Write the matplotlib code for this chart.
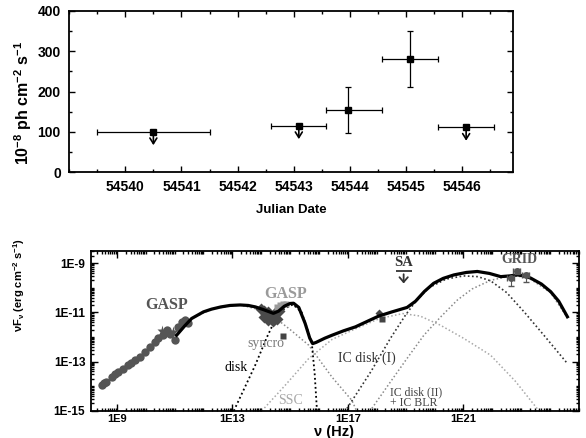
import matplotlib
matplotlib.use('Agg')
import matplotlib.pyplot as plt
import numpy as np
from matplotlib.ticker import FixedLocator, LogLocator, NullFormatter, MultipleLocator

# ---- top panel: light curve (Julian Date vs flux, 1e-8 ph cm^-2 s^-1)
jd = [54540.5, 54543.09, 54543.97, 54545.07, 54546.07]
jd_err_lo = [1.0, 0.49, 0.40, 0.50, 0.50]
jd_err_hi = [1.0, 0.49, 0.60, 0.50, 0.50]
flux = [100, 115, 155, 281, 111]
flux_lo = [None, None, 98, 212, None]
flux_hi = [None, None, 212, 350, None]
is_ul = [True, True, False, False, True]

# ---- bottom panel: SED, values as log10(nu) and log10(nuFnu)
gasp_radio_lognu = [8.47, 8.55, 8.64, 8.82, 8.95, 9.05, 9.22, 9.39, 9.5, 9.62, 9.80, 9.97,
                    10.14, 10.32, 10.43, 10.61, 10.72, 10.84, 11.01, 11.13, 11.24, 11.36, 11.47]
gasp_radio_logf = [-13.97, -13.88, -13.83, -13.63, -13.5, -13.42, -13.31, -13.15, -13.05, -12.95,
                   -12.81, -12.61, -12.40, -12.20, -12.06, -11.93, -11.72, -11.86, -12.13, -11.59,
                   -11.38, -11.31, -11.45]
gasp_star_lognu = [10.55, 10.95, 11.3]
gasp_star_logf = [-11.76, -11.8, -11.42]

gasp_opt_lognu = [14.0, 14.08, 14.15, 14.22, 14.3, 14.38, 14.45, 14.52, 14.1, 14.25, 14.4, 14.55, 14.6]
gasp_opt_logf = [-10.85, -10.95, -11.05, -11.0, -11.15, -11.25, -11.1, -11.0, -11.2, -11.3, -11.35,
                 -11.25, -10.95]
gasp_opt2_lognu = [14.55, 14.65, 14.75, 14.85]
gasp_opt2_logf = [-10.78, -10.72, -10.68, -10.66]

uv_lognu = [14.77]
uv_logf = [-11.95]
xray_lognu = [18.09, 18.18]
xray_logf = [-11.02, -11.29]

sa_lognu = 18.93
sa_logf = -9.34

grid_lognu = [22.63, 22.85, 23.15]
grid_logf = [-9.62, -9.32, -9.48]
grid_logf_lo = [-9.95, -9.45, -9.78]
grid_logf_hi = [-9.55, -9.25, -9.40]

total_lognu = [11.07, 11.35, 11.59, 12.0, 12.28, 12.6, 12.92, 13.27, 13.55, 13.8, 14.1, 14.42,
               14.6, 14.8, 15.0, 15.12, 15.3, 15.52, 15.68, 15.78, 15.9, 16.2, 16.45, 16.85,
               17.26, 17.7, 18.07, 18.53, 19.05, 19.34, 19.65, 19.97, 20.3, 20.67, 21.1, 21.48,
               21.9, 22.29, 22.6, 22.87, 23.1, 23.33, 23.7, 24.02, 24.3, 24.6]
total_logf = [-11.93, -11.55, -11.25, -10.98, -10.87, -10.78, -10.72, -10.70, -10.72, -10.78,
              -10.9, -11.04, -10.95, -10.75, -10.64, -10.63, -10.8, -11.45, -12.05, -12.27,
              -12.22, -12.05, -11.93, -11.75, -11.59, -11.35, -11.15, -10.98, -10.8, -10.55,
              -10.15, -9.82, -9.62, -9.48, -9.38, -9.34, -9.42, -9.55, -9.52, -9.48, -9.52,
              -9.61, -9.85, -10.16, -10.55, -11.18]

syncro_lognu = [11.07, 11.59, 12.28, 12.92, 13.27, 13.8, 14.3, 14.65, 15.0, 15.64, 16.45, 17.14, 17.3]
syncro_logf = [-11.93, -11.25, -10.87, -10.74, -10.70, -10.85, -11.1, -11.38, -11.7, -12.33,
               -13.63, -14.58, -15.0]

disk_lognu = [13.05, 13.79, 14.2, 14.48, 14.8, 15.1, 15.4, 15.6, 15.75, 15.85, 15.93]
disk_logf = [-15.0, -13.15, -12.0, -11.31, -10.85, -10.68, -11.0, -11.7, -12.25, -13.5, -15.0]

ssc_lognu = [14.02, 14.8, 15.64, 16.45, 17.3, 18.1, 18.9, 19.5, 20.2, 21.0, 21.94, 22.8, 23.56]
ssc_logf = [-15.0, -14.0, -12.88, -12.1, -11.65, -11.25, -11.05, -11.15, -11.52, -12.05, -12.74,
            -13.8, -14.92]

icd1_lognu = [16.97, 17.8, 18.47, 19.0, 19.34, 19.8, 20.4, 21.0, 21.5, 21.94, 22.5, 23.1, 23.8, 24.6]
icd1_logf = [-14.9, -13.4, -12.06, -11.1, -10.57, -10.0, -9.65, -9.52, -9.55, -9.72, -10.2,
             -10.98, -11.95, -13.08]

icd2_lognu = [17.83, 18.47, 19.0, 19.63, 20.2, 20.79, 21.3, 21.94, 22.4, 22.87, 23.33, 24.02, 24.6]
icd2_logf = [-14.9, -13.83, -12.95, -11.93, -11.2, -10.5, -10.05, -9.7, -9.58, -9.52, -9.66,
             -10.2, -11.22]


def p10(v):
    return np.power(10.0, np.array(v, dtype=float))


fig = plt.figure(figsize=(5.86, 4.38), dpi=100)
sans = 'Liberation Sans'
serif = 'Liberation Serif'

# ================= top panel
ax1 = fig.add_axes([0.118, 0.607, 0.757, 0.368])
for i in range(len(jd)):
    if is_ul[i]:
        yerr = None
    else:
        yerr = [[flux[i] - flux_lo[i]], [flux_hi[i] - flux[i]]]
    ax1.errorbar([jd[i]], [flux[i]], xerr=[[jd_err_lo[i]], [jd_err_hi[i]]], yerr=yerr,
                 fmt='s', color='black', ms=4, elinewidth=0.9, capsize=2.5, capthick=0.9)
    if is_ul[i]:
        ax1.annotate('', xy=(jd[i], flux[i] - 40), xytext=(jd[i], flux[i]),
                     arrowprops=dict(arrowstyle='->,head_length=0.4,head_width=0.25',
                                     color='black', lw=1.2))
ax1.set_xlim(54539.0, 54546.9)
ax1.set_ylim(0, 400)
ax1.xaxis.set_minor_locator(MultipleLocator(0.5))
ax1.yaxis.set_major_locator(MultipleLocator(100))
ax1.yaxis.set_minor_locator(MultipleLocator(50))
ax1.set_xticks(np.arange(54540, 54547))
ax1.set_xticklabels([str(v) for v in range(54540, 54547)])
ax1.tick_params(which='both', direction='in', top=True, right=True, width=1.0)
ax1.tick_params(which='major', length=4, labelsize=10, pad=6)
ax1.tick_params(which='minor', length=2.5)
for lab in ax1.get_xticklabels() + ax1.get_yticklabels():
    lab.set_fontfamily(sans)
    lab.set_fontweight('bold')
for s in ax1.spines.values():
    s.set_linewidth(1.3)
ax1.set_xlabel('Julian Date', fontfamily=sans, fontweight='bold', fontsize=9.5, labelpad=7)
ax1.set_ylabel('10$^\\mathregular{-8}$ ph cm$^\\mathregular{-2}$ s$^\\mathregular{-1}$',
               fontfamily=sans, fontweight='bold', fontsize=11.5)
ax1.yaxis.set_label_coords(-0.08, 0.43)

# ================= bottom panel
ax2 = fig.add_axes([0.155, 0.062, 0.833, 0.366])
ax2.set_xscale('log')
ax2.set_yscale('log')

dots = (0, (1, 1.5))
ax2.plot(p10(syncro_lognu), p10(syncro_logf), ls=dots, color='#8a8a8a', lw=1.1, zorder=2)
ax2.plot(p10(ssc_lognu), p10(ssc_logf), ls=dots, color='#a8a8a8', lw=1.1, zorder=2)
ax2.plot(p10(icd2_lognu), p10(icd2_logf), ls=dots, color='#8a8a8a', lw=1.1, zorder=2)
ax2.plot(p10(disk_lognu), p10(disk_logf), ls=dots, color='black', lw=1.3, zorder=2)
ax2.plot(p10(icd1_lognu), p10(icd1_logf), ls=dots, color='#333333', lw=1.2, zorder=2)

ax2.plot(p10(gasp_radio_lognu), p10(gasp_radio_logf), 'o', color='#555555', ms=6, mec='none', zorder=3)
ax2.plot(p10(gasp_star_lognu), p10(gasp_star_logf), '*', color='#555555', ms=8, mec='none', zorder=3)
ax2.plot(p10(gasp_opt_lognu), p10(gasp_opt_logf), 'D', color='#4a4a4a', ms=6, mec='none', zorder=3)
ax2.plot(p10(gasp_opt2_lognu), p10(gasp_opt2_logf), 's', color='#9a9a9a', ms=5, mec='none', zorder=3)
ax2.plot(p10(uv_lognu), p10(uv_logf), 's', color='#444444', ms=4.5, mec='none', zorder=3)
ax2.plot(p10(xray_lognu[:1]), p10(xray_logf[:1]), 'D', color='#444444', ms=4.5, mec='none', zorder=3)
ax2.plot(p10(xray_lognu[1:]), p10(xray_logf[1:]), 's', color='#444444', ms=4.5, mec='none', zorder=3)

ax2.plot(p10(total_lognu), p10(total_logf), '-', color='black', lw=2.3, zorder=4)

# SA upper limit
ax2.errorbar([10 ** sa_lognu], [10 ** sa_logf], xerr=[[10 ** sa_lognu - 10 ** (sa_lognu - 0.28)],
             [10 ** (sa_lognu + 0.28) - 10 ** sa_lognu]], fmt='none', ecolor='#333333',
             elinewidth=1.3, capsize=0, zorder=5)
ax2.annotate('', xy=(10 ** sa_lognu, 10 ** (sa_logf - 0.6)), xytext=(10 ** sa_lognu, 10 ** sa_logf),
             arrowprops=dict(arrowstyle='->,head_length=0.35,head_width=0.3', color='#333333', lw=1.3))

# GRID points
gx = p10(grid_lognu)
gy = p10(grid_logf)
ax2.errorbar(gx, gy, yerr=[gy - p10(grid_logf_lo), p10(grid_logf_hi) - gy],
             xerr=[gx - p10(np.array(grid_lognu) - 0.12), p10(np.array(grid_lognu) + 0.12) - gx],
             fmt='o', color='#555555', ms=5, mec='none', ecolor='#555555', elinewidth=0.8,
             capsize=2, zorder=5)

ax2.set_xlim(10 ** 8.1, 10 ** 25.0)
ax2.set_ylim(1e-15, 10 ** -8.49)
ax2.xaxis.set_major_locator(FixedLocator([1e9, 1e13, 1e17, 1e21]))
ax2.set_xticklabels(['1E9', '1E13', '1E17', '1E21'])
ax2.xaxis.set_minor_locator(LogLocator(base=10, subs=np.arange(1, 10), numticks=200))
ax2.xaxis.set_minor_formatter(NullFormatter())
ax2.yaxis.set_major_locator(FixedLocator([1e-15, 1e-13, 1e-11, 1e-9]))
ax2.set_yticklabels(['1E-15', '1E-13', '1E-11', '1E-9'])
ax2.yaxis.set_minor_locator(LogLocator(base=10, subs=np.arange(1, 10), numticks=200))
ax2.yaxis.set_minor_formatter(NullFormatter())
ax2.tick_params(which='both', direction='in', top=True, right=True, width=1.0)
ax2.tick_params(which='major', length=5, labelsize=8.5, pad=4)
ax2.tick_params(axis='x', which='major', labelsize=8, pad=2.5)
ax2.tick_params(which='minor', length=2.5)
for lab in ax2.get_xticklabels() + ax2.get_yticklabels():
    lab.set_fontfamily(sans)
    lab.set_fontweight('bold')
for s in ax2.spines.values():
    s.set_linewidth(1.3)
fig.text(0.57, 1 - 432 / 438, 'ν (Hz)', ha='center', va='center', fontfamily=sans,
         fontweight='bold', fontsize=10.5)
ax2.set_ylabel('νF$_\\mathregular{ν}$ (erg cm$^\\mathregular{-2}$ s$^\\mathregular{-1}$)',
               fontfamily=sans, fontweight='bold', fontsize=8)
ax2.yaxis.set_label_coords(-0.13, 0.785)

# component and data labels
def lab(lognu, logf, text, color, size=9, ha='center', bold=True):
    ax2.text(10 ** lognu, 10 ** logf, text, color=color, fontsize=size, ha=ha, va='center',
             fontfamily=serif, fontweight='bold' if bold else 'normal', zorder=6)

lab(10.73, -10.7, 'GASP', '#555555', 11.5)
lab(14.83, -10.25, 'GASP', '#9a9a9a', 11.5)
lab(14.15, -12.25, 'syncro', '#7a7a7a', 10, bold=False)
lab(13.13, -13.23, 'disk', 'black', 10, bold=False)
lab(15.0, -14.58, 'SSC', '#a8a8a8', 10, bold=False)
lab(17.64, -12.86, 'IC disk (I)', '#333333', 10, bold=False)
lab(18.47, -14.25, 'IC disk (II)', '#444444', 8.5, ha='left', bold=False)
lab(18.47, -14.68, '+ IC BLR', '#444444', 8.5, ha='left', bold=False)
lab(18.93, -8.99, 'SA', '#333333', 10.5)
lab(22.94, -8.84, 'GRID', '#555555', 10)

fig.savefig('out.png', dpi=100)
